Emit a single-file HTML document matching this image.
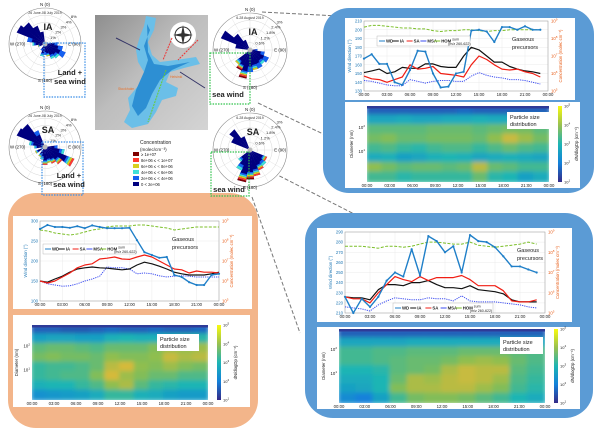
<!DOCTYPE html>
<html><head><meta charset="utf-8"><style>
body{margin:0;background:#fff;}
svg{display:block;font-family:"Liberation Sans",sans-serif;}
</style></head><body>
<svg id="fig" width="600" height="434" viewBox="0 0 600 434" xmlns="http://www.w3.org/2000/svg">
<defs>
<filter id="blur" x="-5%" y="-5%" width="110%" height="110%"><feGaussianBlur stdDeviation="2.2"/></filter>
<linearGradient id="mapg" x1="0" y1="0" x2="1" y2="1"><stop offset="0" stop-color="#8e8e8e"/><stop offset="0.45" stop-color="#bdbdbd"/><stop offset="1" stop-color="#d4d4d4"/></linearGradient>
<linearGradient id="cbar" x1="0" y1="1" x2="0" y2="0"><stop offset="0" stop-color="#352a87"/><stop offset="0.25" stop-color="#1381da"/><stop offset="0.5" stop-color="#1db5b4"/><stop offset="0.75" stop-color="#99c050"/><stop offset="1" stop-color="#f9fb0e"/></linearGradient>
<clipPath id="c1"><rect x="32" y="325" width="176" height="75"/></clipPath>
<clipPath id="c2"><rect x="367" y="106" width="182" height="76"/></clipPath>
<clipPath id="c3"><rect x="339" y="329" width="206" height="74"/></clipPath>
</defs>

<g stroke="#777" stroke-width="1" stroke-dasharray="4,2" fill="none">
<line x1="262" y1="12" x2="338" y2="16"/>
<line x1="258" y1="103" x2="340" y2="142"/>
<line x1="258" y1="165" x2="362" y2="218"/>
<line x1="85" y1="196" x2="205" y2="217"/>
<line x1="252" y1="197" x2="300" y2="333"/>
<line x1="12" y1="208" x2="34" y2="196"/>
</g>

<rect x="8" y="193" width="250" height="235" rx="28" fill="#f3b58a"/>
<rect x="323" y="8" width="271" height="185" rx="26" fill="#5b9bd5"/>
<rect x="305" y="213" width="288" height="205" rx="28" fill="#5b9bd5"/>
<rect x="13" y="216" width="239" height="93" fill="#fff"/>
<rect x="13" y="315" width="237" height="92" fill="#fff"/>
<rect x="345" y="18" width="230" height="82" fill="#fff"/>
<rect x="345" y="102" width="235" height="86" fill="#fff"/>
<rect x="317" y="228" width="255" height="94" fill="#fff"/>
<rect x="317" y="327" width="263" height="82" fill="#fff"/>

<g>
<rect x="95" y="15" width="113" height="115" fill="url(#mapg)"/>
<path d="M146,16 L156,18 L154,30 L148,42 L152,55 L160,62 L176,60 L196,57 L200,64 L184,68 L170,72 L166,82 L178,88 L176,96 L162,100 L156,112 L148,124 L132,128 L124,122 L130,110 L128,98 L138,86 L144,72 L138,62 L136,50 L140,36 L144,26 Z" fill="#6bbfe8"/>
<path d="M147,24 L150,30 L144,46 L148,60 L144,72 L136,90 L132,106 L138,116 L146,108 L152,94 L160,80 L172,70 L190,62 L168,66 L154,64 L148,52 Z" fill="#2d8fd3"/>
<circle cx="183" cy="35" r="13" fill="#fff"/>
<circle cx="183" cy="35" r="8" fill="none" stroke="#333" stroke-width="1"/>
<path d="M183,25 L185,35 L183,45 L181,35 Z M173,35 L183,33 L193,35 L183,37 Z" fill="#333"/>
<line x1="172" y1="38" x2="163" y2="60" stroke="#e33" stroke-width="1" stroke-dasharray="2,1"/>
<line x1="198" y1="40" x2="178" y2="60" stroke="#e33" stroke-width="1" stroke-dasharray="2,1"/>
<line x1="166" y1="70" x2="148" y2="122" stroke="#6c3" stroke-width="1" stroke-dasharray="2,1"/>
<line x1="116" y1="38" x2="140" y2="50" stroke="#336" stroke-width="1"/>
<line x1="180" y1="72" x2="205" y2="88" stroke="#336" stroke-width="1"/>
<text x="118" y="90" font-size="3.5" fill="#e8722c">Stockholm</text>
<text x="170" y="78" font-size="3.5" fill="#e8722c">Helsinki</text>
</g>

<g font-size="4.2" fill="#222">
<text x="140" y="144" font-size="5">Concentration</text>
<text x="140" y="151" font-size="4.6">(molec/cm⁻³)</text>
<rect x="133" y="152" width="6" height="4" fill="#7f0000"/><text x="141" y="156">≥ 1e+07</text>
<rect x="133" y="158" width="6" height="4" fill="#ff3b2f"/><text x="141" y="162">8e+06 ≤   &lt; 1e+07</text>
<rect x="133" y="164" width="6" height="4" fill="#d8d020"/><text x="141" y="168">6e+06 ≤   &lt; 8e+06</text>
<rect x="133" y="170" width="6" height="4" fill="#3fe0d8"/><text x="141" y="174">4e+06 ≤   &lt; 6e+06</text>
<rect x="133" y="176" width="6" height="4" fill="#1560f0"/><text x="141" y="180">2e+06 ≤   &lt; 4e+06</text>
<rect x="133" y="182" width="6" height="4" fill="#00007f"/><text x="141" y="186">0       &lt; 2e+06</text>
</g>

<g id="roses"></g>
<g id="charts"></g>
</svg>

<script>
const NS="http://www.w3.org/2000/svg";
const svg=document.getElementById('fig');
function mk(tag,attrs,parent,txt){const e=document.createElementNS(NS,tag);for(const k in attrs)e.setAttribute(k,attrs[k]);if(txt!==undefined)e.textContent=txt;(parent||svg).appendChild(e);return e;}

const roseTipColors=["#00007f","#1560f0","#3fe0d8","#d8d020","#ff3b2f","#7f0000"];
const rose1Dirs=[300,315,330,285,345,270,255,90,105,120,135,150,165,180,195,210];
const rose1Len=[0.85,0.75,0.55,0.5,0.35,0.35,0.2,0.35,0.5,0.62,0.5,0.45,0.35,0.3,0.35,0.2];
const rose1Tip=[0,0,0,1,0,2,3,1,1,1,2,2,3,1,2,1];
const rose2Dirs=[300,315,330,285,270,90,105,120,135,150,165,180,195,210,240];
const rose2Len=[0.85,0.8,0.5,0.45,0.3,0.35,0.55,0.88,0.6,0.5,0.45,0.5,0.35,0.3,0.3];
const rose2Tip=[0,0,1,2,2,1,2,4,4,4,3,4,2,3,3];
const rose3Dirs=[300,315,285,330,90,105,120,135,150,165,180,195,210,225];
const rose3Len=[0.85,0.55,0.4,0.3,0.2,0.4,0.55,0.5,0.55,0.55,0.6,0.78,0.6,0.5];
const rose3Tip=[0,0,0,0,1,1,1,2,1,3,1,5,5,3];
const rose4Dirs=[315,300,330,120,135,150,165,180,195,210,225];
const rose4Len=[0.7,0.55,0.4,0.5,0.55,0.6,0.72,0.8,0.88,0.6,0.4];
const rose4Tip=[0,0,0,4,2,4,4,5,5,2,2];
const roseTitles=["IA","SA","IA","SA"];
const rosePct=[["8%","4%","3%","2%","1%"],["8%","4%","3%","2%","1%"],["3%","2.4%","1.8%","1.2%","0.6%"],["3%","2.4%","1.8%","1.2%","0.6%"]];
const roseDates=["26 June-08 July 2019","26 June-08 July 2019","6-28 August 2019","6-28 August 2019"];

function drawRose(idx,cx,cy,r,dirs,lens,tips){
  const g=mk('g',{},document.getElementById('roses'));
  
  
  mk('circle',{cx,cy,r,fill:'#fff',stroke:'#888','stroke-width':0.6},g);
  for(let k=1;k<5;k++)mk('circle',{cx,cy,r:r*k/5,fill:'none',stroke:'#ccc','stroke-width':0.4},g);
  for(let a=0;a<360;a+=30){const t=a*Math.PI/180;mk('line',{x1:cx,y1:cy,x2:cx+r*Math.sin(t),y2:cy-r*Math.cos(t),stroke:'#ddd','stroke-width':0.4},g);}
  const wedge=(d,r0,r1,col)=>{const a0=(d-8)*Math.PI/180,a1=(d+8)*Math.PI/180;
    const p=(rr,a)=>(cx+rr*Math.sin(a)).toFixed(1)+','+(cy-rr*Math.cos(a)).toFixed(1);
    mk('path',{d:`M${p(r0,a0)} L${p(r1,a0)} L${p(r1,a1)} L${p(r0,a1)} Z`,fill:col},g);};
  dirs.forEach((d,i)=>{const L=lens[i]*r;const t=tips[i];
    wedge(d,1,L,roseTipColors[0]);
    const start=L*0.75;for(let c=1;c<=t;c++){const s=start+(L-start)*(c-1)/t,e=start+(L-start)*c/t;wedge(d,s,e,roseTipColors[c]);}
  });
  mk('circle',{cx,cy,r:2.5,fill:'#bbb'},g);
  mk('text',{x:cx,y:cy-r-2,'font-size':4.5,'text-anchor':'middle',fill:'#222'},g,'N (0)');
  mk('text',{x:cx,y:cy-r+6,'font-size':3.5,'text-anchor':'middle',fill:'#333'},g,roseDates[idx]);
  mk('text',{x:cx-r+1,y:cy+1.5,'font-size':4.3,'text-anchor':'start',fill:'#222'},g,'W (270)');
  mk('text',{x:cx+r-1,y:cy+1.5,'font-size':4.3,'text-anchor':'end',fill:'#222'},g,'E (90)');
  mk('text',{x:cx,y:cy+r+2,'font-size':4.3,'text-anchor':'middle',fill:'#222'},g,'S (180)');
  mk('text',{x:cx+3,y:cy-r+22,'font-size':9,'font-weight':'bold','text-anchor':'middle',fill:'#222'},g,roseTitles[idx]);
  rosePct[idx].forEach((t,k)=>{const rr=r*(5-k)/5;mk('text',{x:cx+rr*0.72,y:cy-rr*0.72,'font-size':4,fill:'#222'},g,t);});
}
drawRose(0,45,44,36,rose1Dirs,rose1Len,rose1Tip);
drawRose(1,45,147,36,rose2Dirs,rose2Len,rose2Tip);
drawRose(2,250,50,37,rose3Dirs,rose3Len,rose3Tip);
drawRose(3,250,150,37,rose4Dirs,rose4Len,rose4Tip);

function windBox(name,x,y,w,h,col,l1,l2,tx,ty){
  const g=mk('g',{},document.getElementById('roses'));
  
  
  mk('rect',{x,y,width:w,height:h,fill:'none',stroke:col,'stroke-width':1.2,'stroke-dasharray':'1.5,1.2'},g);
  mk('text',{x:tx,y:ty,'font-size':7.5,'font-weight':'bold','text-anchor':'middle',fill:'#222'},g,l1);
  if(l2)mk('text',{x:tx,y:ty+9,'font-size':7.5,'font-weight':'bold','text-anchor':'middle',fill:'#222'},g,l2);
}
windBox('land-sea-wind-box-1',44,43,41,54,'#3a8ee6','Land +','sea wind',70,75);
windBox('land-sea-wind-box-2',42,142,41,53,'#3a8ee6','Land +','sea wind',69,178);
windBox('sea-wind-box-1',210,53,40,51,'#2ec24a','sea wind',null,228,97);
windBox('sea-wind-box-2',211,152,38,44,'#2ec24a','sea wind',null,229,192);

const hoursA=[0,1,2,3,4,5,6,7,8,9,10,11,12,13,14,15,16,17,18,19,20,21,22,23,24];
const oWD=[280,290,285,285,283,287,282,289,285,282,282,282,283,252,222,215,208,210,165,160,147,140,140,165,168];
const oIA=[6.0,5.94,6.1,6.24,6.44,6.6,6.66,6.7,6.66,6.64,6.6,6.56,6.6,6.8,6.94,6.86,6.74,6.6,6.44,6.36,6.3,6.3,6.3,6.36,6.44];
const oSA=[6.0,5.9,6.0,6.2,6.4,6.66,6.8,6.86,7.1,7.14,7.2,7.1,7.08,7.2,7.3,7.2,7.0,6.8,6.6,6.56,6.4,6.5,6.44,6.44,6.4];
const oMSA=[6.0,5.86,5.8,5.74,5.76,5.86,6.0,6.1,6.24,6.7,6.66,6.66,6.6,6.36,6.4,6.36,6.26,6.2,6.24,6.26,6.24,6.2,6.2,6.2,6.2];
const oHOM=[8.55,8.5,8.4,8.35,8.3,8.35,8.45,8.55,8.6,8.7,8.75,8.75,8.75,8.8,8.8,8.75,8.7,8.65,8.55,8.6,8.65,8.7,8.7,8.7,8.7];

const hoursB=[0,1,2,3,4,5,6,7,8,9,10,11,12,13,14,15,16,17,18,19,20,21,22,23];
const tWD=[167,172,161,161,140,137,154,176,175,150,134,135,150,152,199,200,198,186,203,203,200,204,200,200];
const tIA=[6.05,6.15,6.25,6.0,6.1,6.35,6.3,6.3,6.55,6.55,6.4,6.35,6.35,7.0,7.5,7.35,7.0,6.65,6.65,6.4,6.25,6.15,6.1,6.0];
const tSA=[5.85,5.7,5.65,5.5,5.65,5.8,6.5,6.25,6.3,6.4,6.0,5.95,5.9,5.8,6.5,7.0,6.8,6.5,6.25,6.2,6.25,6.1,6.0,5.8];
const tMSA=[5.6,5.55,5.45,5.35,5.3,5.3,5.65,5.55,5.45,5.55,5.6,5.6,5.55,5.55,5.85,6.05,5.9,5.8,5.75,5.65,5.65,5.6,5.5,5.4];
const tHOM=[8.65,8.75,8.75,8.7,8.65,8.6,8.6,8.55,8.55,8.45,8.4,8.45,8.45,8.5,8.5,8.45,8.4,8.45,8.45,8.5,8.5,8.5,8.5,8.5];

const bWD=[226,210,224,216,226,242,250,246,273,247,286,281,270,276,250,287,281,280,275,266,256,256,253,250];
const bIA=[5.8,5.75,5.75,5.65,6.15,6.4,6.4,6.35,6.5,6.5,6.6,6.4,6.25,6.25,6.2,6.35,6.15,6.1,6.05,5.95,5.65,5.55,5.55,5.55];
const bSA=[5.8,5.7,5.7,5.5,6.0,6.4,6.8,6.65,6.55,6.8,6.6,6.75,6.75,6.75,6.85,6.65,6.35,6.35,6.35,6.1,5.6,5.55,5.55,5.65];
const bMSA=[5.3,5.25,5.2,5.1,5.4,5.6,5.75,5.7,5.65,5.65,5.75,5.7,5.7,5.6,5.85,5.6,5.55,5.55,5.55,5.5,5.45,5.4,5.3,5.25];
const bHOM=[8.3,8.3,8.3,8.25,8.2,8.3,8.3,8.25,8.3,8.4,8.5,8.5,8.45,8.4,8.4,8.5,8.35,8.3,8.25,8.3,8.35,8.4,8.5,8.4];

const timeTicks=["00:00","03:00","06:00","09:00","12:00","15:00","18:00","21:00","00:00"];
const oLeftTicks=[100,150,200,250,300];
const tLeftTicks=[130,140,150,160,170,180,190,200,210];
const bLeftTicks=[210,220,230,240,250,260,270,280,290];
const rightExps=[5,6,7,8,9];

function lineChart(name,P,hours,wd,ia,sa,msa,hom,leftTicks,lg){
  const g=mk('g',{},document.getElementById('charts'));
  
  
  const lo=leftTicks[0],hi=leftTicks[leftTicks.length-1];
  const X=h=>P.x+h/24*P.w, YL=v=>P.y+P.h-(v-lo)/(hi-lo)*P.h, YR=e=>P.y+P.h-(e-5)/4*P.h;
  leftTicks.forEach(v=>{mk('line',{x1:P.x,x2:P.x+P.w,y1:YL(v),y2:YL(v),stroke:'#e6e6e6','stroke-width':0.4},g);
    mk('text',{x:P.x-2,y:YL(v)+1.5,'font-size':4.3,'text-anchor':'end',fill:'#1f77b4'},g,v);});
  timeTicks.forEach((t,i)=>{const x=P.x+i*P.w/8;mk('line',{x1:x,x2:x,y1:P.y,y2:P.y+P.h,stroke:'#e6e6e6','stroke-width':0.4},g);
    mk('text',{x,y:P.y+P.h+5,'font-size':4.3,'text-anchor':'middle',fill:'#222'},g,t);});
  rightExps.forEach(e=>{const t=mk('text',{x:P.x+P.w+3,y:YR(e)+1.5,'font-size':4.3,fill:'#e8601c'},g,'10');mk('tspan',{dy:-2,'font-size':3},t,e);});
  mk('rect',{x:P.x,y:P.y,width:P.w,height:P.h,fill:'none',stroke:'#999','stroke-width':0.5},g);
  mk('text',{transform:`translate(${P.x-13},${P.y+P.h/2}) rotate(-90)`,'font-size':4.3,'text-anchor':'middle',fill:'#1f77b4'},g,'Wind direction (°)');
  mk('text',{transform:`translate(${P.x+P.w+14},${P.y+P.h/2}) rotate(-90)`,'font-size':4.3,'text-anchor':'middle',fill:'#e8601c'},g,'Concentration (molec cm⁻³)');
  const pl=(arr,fy,col,w,dash,nm)=>{const p=mk('polyline',{points:arr.map((v,i)=>X(hours[i]).toFixed(1)+','+fy(v).toFixed(1)).join(' '),fill:'none',stroke:col,'stroke-width':w,'stroke-dasharray':dash||'none','stroke-linejoin':'round'},g);
    
    return p;};
  pl(hom,YR,'#7cbf2a',1,'3,1.5','hom-line');
  pl(msa,YR,'#3b4cf0',1,'1.2,1','msa-line');
  pl(ia,YR,'#111',1.2,null,'ia-line');
  pl(sa,YR,'#f01e14',1.2,null,'sa-line');
  pl(wd,YL,'#1f7fc8',1.4,null,'wd-line');
  wd.forEach((v,i)=>{const c=mk('circle',{cx:X(hours[i]),cy:YL(v),r:1.1,fill:'#1f7fc8'},g);
    
    });
  const L=mk('g',{},g);
  
  
  mk('rect',{x:lg.x,y:lg.y,width:lg.w,height:10,fill:'#fff',stroke:'#aaa','stroke-width':0.4},L);
  const items=[['WD','#1f7fc8'],['IA','#111'],['SA','#f01e14'],['MSA','#3b4cf0'],['HOM','#7cbf2a']];
  let x=lg.x+2;const step=(lg.w-24)/5;
  items.forEach(([t,c])=>{mk('line',{x1:x,x2:x+6,y1:lg.y+5,y2:lg.y+5,stroke:c,'stroke-width':1},L);
    mk('text',{x:x+7,y:lg.y+6.5,'font-size':4.3,'font-weight':'bold',fill:'#222'},L,t);x+=step;});
  mk('text',{x:x-step+18,y:lg.y+4.5,'font-size':3.6,fill:'#222'},L,'sum');
  mk('text',{x:x-step+14,y:lg.y+8.8,'font-size':3.6,fill:'#222'},L,'(m/z 260-622)');
  mk('text',{x:lg.gx,y:lg.gy,'font-size':5.5,fill:'#222'},g,'Gaseous');
  mk('text',{x:lg.gx,y:lg.gy+8,'font-size':5.5,fill:'#222'},g,'precursors');
}
lineChart('orange-line-chart',{x:40,y:221,w:179,h:80},hoursA,oWD,oIA,oSA,oMSA,oHOM,oLeftTicks,{x:43,y:244,w:93,gx:172,gy:241});
lineChart('top-right-line-chart',{x:364,y:21,w:184,h:70},hoursB,tWD,tIA,tSA,tMSA,tHOM,tLeftTicks,{x:377,y:36,w:93,gx:512,gy:41});
lineChart('bottom-right-line-chart',{x:345,y:232,w:200,h:81},hoursB,bWD,bIA,bSA,bMSA,bHOM,bLeftTicks,{x:393,y:303,w:100,gx:517,gy:252});

const oHeat=[
[1.6,1.6,1.5,1.5,1.6,1.7,1.6,1.6,1.7,1.6,1.6,1.7],
[2.6,2.7,2.7,2.6,2.6,2.9,3.0,2.9,2.9,3.0,3.1,3.1],
[3.5,3.6,3.6,3.5,3.4,3.6,3.6,3.6,3.8,3.9,3.9,4.0],
[3.7,3.8,3.7,3.7,3.6,3.9,3.8,3.8,3.9,4.3,4.1,4.2],
[3.2,3.3,3.3,3.4,3.6,4.2,4.4,3.9,3.8,4.0,3.8,3.7],
[3.2,3.3,3.4,3.4,3.8,4.4,4.0,3.8,3.6,3.6,3.4,3.4],
[2.9,3.0,3.0,3.2,3.4,3.9,4.1,3.5,3.2,3.1,3.0,3.0],
[2.3,2.4,2.5,2.6,2.8,3.2,3.2,2.9,2.8,2.6,2.5,2.5]];
const tHeat=[
[1.6,1.6,1.6,1.6,1.6,1.6,1.7,1.6,1.6,1.6,1.6,1.6],
[2.7,2.7,2.8,2.7,2.7,2.8,2.8,2.9,2.8,2.8,2.7,2.7],
[3.5,3.5,3.5,3.5,3.6,3.6,3.6,3.5,3.6,3.7,3.7,3.5],
[3.7,3.8,3.6,3.6,3.7,3.7,3.7,3.6,3.9,4.3,4.0,3.7],
[3.3,3.4,3.2,3.1,3.3,3.4,3.4,3.2,3.4,3.6,3.4,3.3],
[2.8,2.9,2.6,2.7,2.9,3.0,2.9,2.7,2.8,2.9,2.8,2.7],
[3.9,3.7,3.5,3.6,3.6,3.5,3.6,4.2,3.6,3.5,3.3,3.3],
[3.3,3.3,3.1,3.2,3.2,3.2,3.2,3.6,3.1,3.0,2.6,2.8]];
const bHeat=[
[1.6,1.6,1.6,1.6,1.6,1.6,1.6,1.6,1.6,1.6,1.6,1.6],
[2.7,2.7,2.7,2.7,2.8,2.8,2.8,2.8,2.8,2.8,2.7,2.7],
[3.3,3.3,3.4,3.4,3.5,3.5,3.5,3.6,3.6,3.6,3.5,3.4],
[3.3,3.3,3.4,3.5,3.6,3.6,3.7,3.9,4.0,3.9,3.6,3.4],
[3.0,3.0,3.1,3.5,3.6,3.7,4.1,4.3,4.2,4.2,3.5,3.3],
[2.8,2.8,3.0,3.6,4.1,4.0,4.2,4.3,4.2,4.0,3.4,3.2],
[2.6,2.7,3.0,3.8,4.1,4.1,4.2,4.2,4.0,3.8,3.3,3.1],
[2.2,2.0,2.6,3.3,3.7,3.8,3.8,3.7,3.5,3.3,3.0,2.8]];
const cbarExps=[1,2,3,4,5];
const diamTicks=[1,2];

const parula=[[0,[53,42,135]],[0.25,[19,129,218]],[0.5,[29,181,180]],[0.72,[140,190,80]],[0.87,[225,185,55]],[1,[249,251,14]]];
function pcol(v){let t=Math.max(0,Math.min(1,(v-1)/4));for(let i=1;i<parula.length;i++){if(t<=parula[i][0]){const[a,ca]=parula[i-1],[b,cb]=parula[i];const f=(t-a)/(b-a);return 'rgb('+ca.map((c,k)=>Math.round(c+(cb[k]-c)*f)).join(',')+')';}}return 'rgb(249,251,14)';}

function heatmap(name,P,clip,M,cbx,box){
  const g=mk('g',{},document.getElementById('charts'));
  
  
  const inner=mk('g',{'clip-path':'url(#'+clip+')'},g);
  const bl=mk('g',{filter:'url(#blur)'},inner);
  const R=M.length,C=M[0].length,cw=P.w/C,rh=P.h/R;
  M.forEach((row,r)=>row.forEach((v,c)=>{const e=mk('rect',{x:P.x+c*cw-1,y:P.y+r*rh-1,width:cw+2,height:rh+2,fill:pcol(v)},bl);
    
    }));
  mk('rect',{x:P.x,y:P.y,width:P.w,height:2.5,fill:pcol(1.2)},inner);
  timeTicks.forEach((t,i)=>mk('text',{x:P.x+i*P.w/8,y:P.y+P.h+5,'font-size':4.3,'text-anchor':'middle',fill:'#222'},g,t));
  diamTicks.forEach(d=>{const y=P.y+P.h*(d===2?0.3:0.62);const t=mk('text',{x:P.x-2,y:y,'font-size':4.3,'text-anchor':'end',fill:'#222'},g,'10');mk('tspan',{dy:-2,'font-size':3},t,d);});
  mk('text',{transform:`translate(${P.x-14},${P.y+P.h/2}) rotate(-90)`,'font-size':4.3,'text-anchor':'middle',fill:'#222'},g,'Diameter (nm)');
  mk('rect',{x:cbx,y:P.y,width:4,height:P.h,fill:'url(#cbar)'},g);
  cbarExps.forEach((e,i)=>{const y=P.y+P.h-(e-1)/4*P.h+1.5;const t=mk('text',{x:cbx+6,y,'font-size':4,fill:'#222'},g,'10');mk('tspan',{dy:-2,'font-size':3},t,e);});
  mk('text',{transform:`translate(${cbx+20},${P.y+P.h/2}) rotate(-90)`,'font-size':4.3,'text-anchor':'middle',fill:'#222'},g,'dN/dlogDp (cm⁻³)');
  const b=mk('g',{},g);
  
  
  mk('rect',{x:box.x,y:box.y,width:box.w,height:17,fill:'#fff'},b);
  mk('text',{x:box.x+3,y:box.y+7,'font-size':5.5,fill:'#222'},b,'Particle size');
  mk('text',{x:box.x+3,y:box.y+14,'font-size':5.5,fill:'#222'},b,'distribution');
}
heatmap('orange-heatmap',{x:32,y:325,w:176,h:75},'c1',oHeat,217,{x:157,y:334,w:42});
heatmap('top-right-heatmap',{x:367,y:106,w:182,h:76},'c2',tHeat,558,{x:507,y:112,w:42});
heatmap('bottom-right-heatmap',{x:339,y:329,w:206,h:74},'c3',bHeat,554,{x:500,y:337,w:43});
</script>
</body></html>
